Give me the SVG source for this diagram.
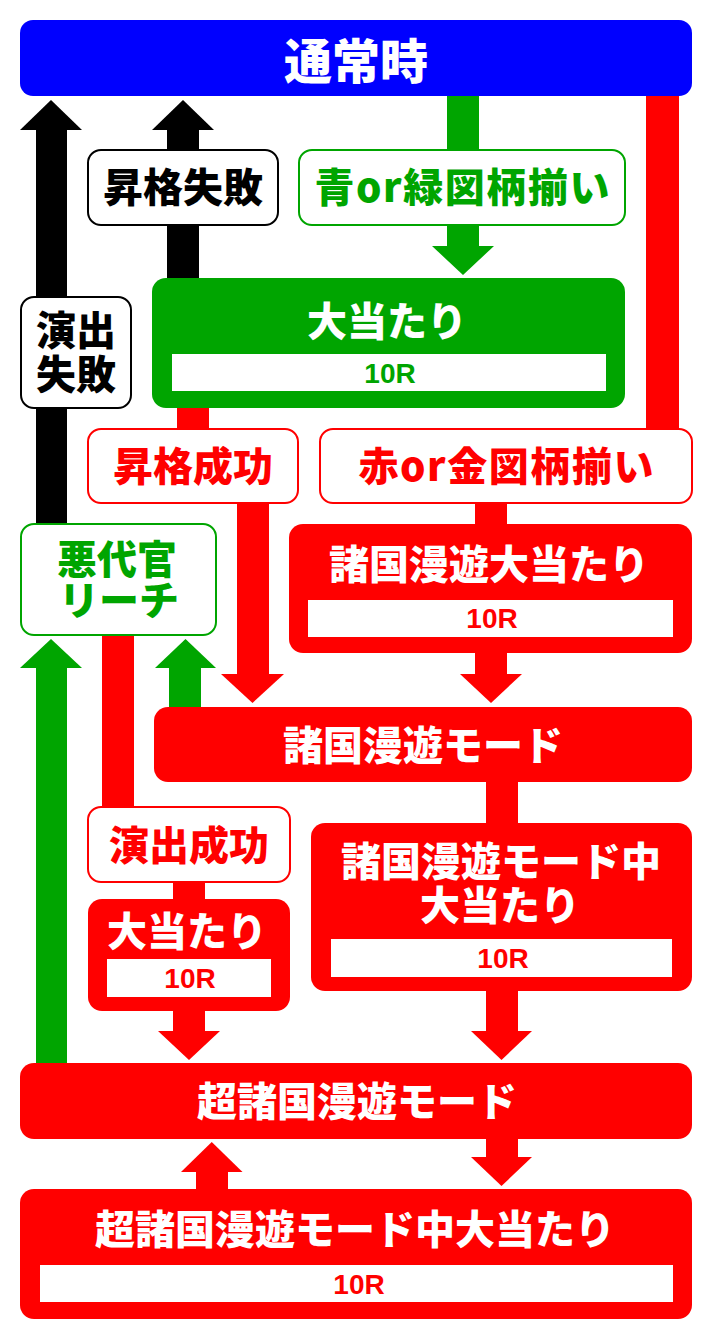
<svg xmlns="http://www.w3.org/2000/svg" width="712" height="1340" viewBox="0 0 712 1340">
<style>
.t{font-family:"Noto Sans CJK JP","Noto Sans CJK SC",sans-serif;font-weight:900;font-size:40px;text-anchor:middle}
.w{fill:#fff}.g{fill:#00a500}.r{fill:#ff0000}.k{fill:#000}
.n{font-family:"Liberation Sans",Arial,sans-serif;font-weight:700;font-size:28px;text-anchor:middle}
.ob{fill:#fff;stroke-width:2}
</style>
<rect width="712" height="1340" fill="#fff"/>
<g id="connectors">
  <rect x="36" y="128" width="31" height="397" fill="#000"/>
  <polygon points="20,130 82,130 51,100" fill="#000"/>
  <rect x="167" y="128" width="32" height="152" fill="#000"/>
  <polygon points="152,130 214,130 183,100" fill="#000"/>
  <rect x="447" y="94" width="32" height="154" fill="#00a500"/>
  <polygon points="432,246 494,246 463,275" fill="#00a500"/>
  <rect x="646" y="94" width="33" height="337" fill="#ff0000"/>
  <rect x="177" y="406" width="32" height="25" fill="#ff0000"/>
  <rect x="237" y="501" width="32" height="175" fill="#ff0000"/>
  <polygon points="221,674 284,674 252.5,703" fill="#ff0000"/>
  <rect x="475" y="501" width="32" height="25" fill="#ff0000"/>
  <rect x="475" y="651" width="32" height="25" fill="#ff0000"/>
  <polygon points="460,674 522,674 491,703" fill="#ff0000"/>
  <rect x="36" y="666" width="31" height="399" fill="#00a500"/>
  <polygon points="20,668 82,668 51,639" fill="#00a500"/>
  <rect x="169" y="666" width="32" height="43" fill="#00a500"/>
  <polygon points="155,668 216,668 185.5,639" fill="#00a500"/>
  <rect x="102" y="633" width="32" height="176" fill="#ff0000"/>
  <rect x="173" y="880" width="32" height="21" fill="#ff0000"/>
  <rect x="173" y="1009" width="32" height="24" fill="#ff0000"/>
  <polygon points="158,1031 220,1031 189,1060" fill="#ff0000"/>
  <rect x="486" y="780" width="32" height="45" fill="#ff0000"/>
  <rect x="486" y="989" width="32" height="44" fill="#ff0000"/>
  <polygon points="471,1031 532,1031 501.5,1060" fill="#ff0000"/>
  <polygon points="181,1172 242.5,1172 211.75,1142" fill="#ff0000"/>
  <rect x="196" y="1170" width="32" height="21" fill="#ff0000"/>
  <rect x="486" y="1137" width="32" height="22" fill="#ff0000"/>
  <polygon points="471,1157 532,1157 501.5,1186" fill="#ff0000"/>
</g>
<g id="normal">
  <rect x="20" y="20" width="672" height="76" rx="13" fill="#0000ff"/>
  <text class="t w" x="356" y="79" style="font-size:48px">通常時</text>
</g>
<g id="promo-fail">
  <rect class="ob" x="88" y="150" width="190" height="75" rx="13" stroke="#000"/>
  <text class="t k" x="183" y="202">昇格失敗</text>
</g>
<g id="blue-green">
  <rect class="ob" x="299" y="150" width="326" height="75" rx="13" stroke="#00a500"/>
  <text class="t g" x="462" y="202" textLength="295">青or緑図柄揃い</text>
</g>
<g id="green-hit">
  <rect x="152" y="278" width="473" height="130" rx="14" fill="#00a500"/>
  <text class="t w" x="387" y="336">大当たり</text>
  <rect x="172" y="354" width="434" height="37" fill="#fff"/>
  <text class="n g" x="390" y="383">10R</text>
</g>
<g id="perf-fail">
  <rect class="ob" x="21" y="297" width="110" height="111" rx="13" stroke="#000"/>
  <text class="t k" x="76" y="345"><tspan x="76">演出</tspan><tspan x="76" dy="44">失敗</tspan></text>
</g>
<g id="promo-success">
  <rect class="ob" x="88" y="429" width="210" height="74" rx="13" stroke="#ff0000"/>
  <text class="t r" x="193" y="481">昇格成功</text>
</g>
<g id="red-gold">
  <rect class="ob" x="320" y="429" width="372" height="74" rx="13" stroke="#ff0000"/>
  <text class="t r" x="506" y="481" textLength="295">赤or金図柄揃い</text>
</g>
<g id="shokoku-hit">
  <rect x="289" y="524" width="403" height="129" rx="14" fill="#ff0000"/>
  <text class="t w" x="489" y="579">諸国漫遊大当たり</text>
  <rect x="308" y="600" width="365" height="37" fill="#fff"/>
  <text class="n r" x="492" y="628">10R</text>
</g>
<g id="akudaikan">
  <rect class="ob" x="21" y="524" width="195" height="111" rx="13" stroke="#00a500"/>
  <text class="t g" x="117" y="574"><tspan x="117">悪代官</tspan><tspan x="119" dy="41">リーチ</tspan></text>
</g>
<g id="shokoku-mode">
  <rect x="154" y="707" width="538" height="75" rx="14" fill="#ff0000"/>
  <text class="t w" x="423" y="760">諸国漫遊モード</text>
</g>
<g id="perf-success">
  <rect class="ob" x="88" y="807" width="202" height="75" rx="13" stroke="#ff0000"/>
  <text class="t r" x="189" y="860">演出成功</text>
</g>
<g id="red-hit">
  <rect x="88" y="899" width="202" height="112" rx="14" fill="#ff0000"/>
  <text class="t w" x="187" y="946">大当たり</text>
  <rect x="107" y="959" width="164" height="38" fill="#fff"/>
  <text class="n r" x="190" y="988">10R</text>
</g>
<g id="mode-hit">
  <rect x="311" y="823" width="381" height="168" rx="14" fill="#ff0000"/>
  <text class="t w" x="501" y="876"><tspan x="501">諸国漫遊モード中</tspan><tspan x="500" dy="44">大当たり</tspan></text>
  <rect x="331" y="939" width="341" height="38" fill="#fff"/>
  <text class="n r" x="503" y="968">10R</text>
</g>
<g id="super-mode">
  <rect x="20" y="1063" width="672" height="76" rx="14" fill="#ff0000"/>
  <text class="t w" x="357" y="1116">超諸国漫遊モード</text>
</g>
<g id="super-hit">
  <rect x="20" y="1189" width="672" height="130" rx="14" fill="#ff0000"/>
  <text class="t w" x="355" y="1244">超諸国漫遊モード中大当たり</text>
  <rect x="40" y="1265" width="633" height="37" fill="#fff"/>
  <text class="n r" x="359" y="1294">10R</text>
</g>
</svg>
